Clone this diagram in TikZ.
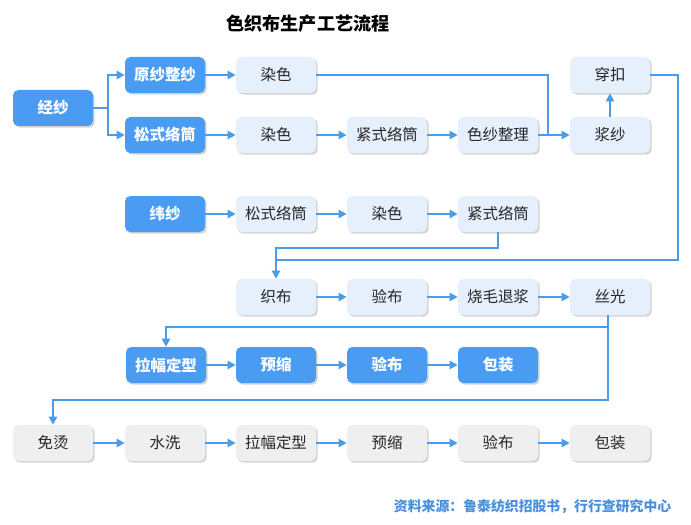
\documentclass[tikz,border=0pt]{standalone}
\usepackage{fontspec}
\setmainfont{Noto Sans CJK SC}
\usetikzlibrary{shadows,arrows.meta}
\definecolor{bluebox}{HTML}{4A9BF2}
\definecolor{lightbox}{HTML}{E5F0FC}
\definecolor{greybox}{HTML}{EFEFEF}
\definecolor{linec}{HTML}{4A9BE8}
\definecolor{srcc}{HTML}{4A8FDC}
\tikzset{
  base/.style={rounded corners=4pt, minimum width=60pt, minimum height=27pt, inner sep=0pt,
    font=\fontsize{11.6pt}{13pt}\selectfont,
    drop shadow={shadow xshift=1.3pt, shadow yshift=-1.3pt, opacity=0.28, fill=black!60}},
  bbox/.style={base, fill=bluebox, text=white, font=\fontsize{11.6pt}{13pt}\selectfont\bfseries},
  lbox/.style={base, fill=lightbox, text=black!85},
  gbox/.style={base, fill=greybox, text=black!85},
  conn/.style={draw=linec, line width=1.5pt},
  arr/.style={conn, -{Triangle[length=6pt,width=6pt]}},
}
\begin{document}
\begin{tikzpicture}[x=0.75pt,y=-0.75pt]
\useasboundingbox (0,0) rectangle (691,524);
\node[font=\fontsize{13.6pt}{16pt}\selectfont\bfseries] (title) at (308,24) {色织布生产工艺流程};
% row 1/2
\node[bbox] (jing) at (53,108) {经纱};
\node[bbox] (yuan) at (165,75) {原纱整纱};
\node[lbox] (ranA) at (276,75) {染色};
\node[lbox] (chuan) at (610,75) {穿扣};
\node[bbox] (songA) at (165,135) {松式络筒};
\node[lbox] (ranB) at (276,135) {染色};
\node[lbox] (jinB) at (387,135) {紧式络筒};
\node[lbox] (sez) at (498,135) {色纱整理};
\node[lbox] (jiang) at (610,135) {浆纱};
% row 3
\node[bbox] (wei) at (165,214) {纬纱};
\node[lbox] (songC) at (276,214) {松式络筒};
\node[lbox] (ranC) at (387,214) {染色};
\node[lbox] (jinC) at (498,214) {紧式络筒};
% row 4
\node[lbox] (zhi) at (276,297) {织布};
\node[lbox] (yanD) at (387,297) {验布};
\node[lbox] (shao) at (498,297) {烧毛退浆};
\node[lbox] (si) at (610,297) {丝光};
% row 5
\node[bbox] (lafuE) at (166,365) {拉幅定型};
\node[bbox] (yusE) at (276,365) {预缩};
\node[bbox] (yanE) at (387,365) {验布};
\node[bbox] (baoE) at (498,365) {包装};
% row 6
\node[gbox] (mian) at (53,443) {免烫};
\node[gbox] (shui) at (165,443) {水洗};
\node[gbox] (lafuF) at (276,443) {拉幅定型};
\node[gbox] (yusF) at (387,443) {预缩};
\node[gbox] (yanF) at (498,443) {验布};
\node[gbox] (baoF) at (610,443) {包装};
% source
\node[anchor=east, text=srcc, font=\fontsize{10.4pt}{12pt}\selectfont\bfseries] (src) at (676,507) {资料来源：鲁泰纺织招股书，行行查研究中心};
% connectors
\coordinate (j) at (108,108);
\draw[conn] (jing.east) -- (j);
\draw[arr] (j) |- (yuan.west);
\draw[arr] (j) |- (songA.west);
\draw[arr] (yuan) -- (ranA);
\draw[arr] (songA) -- (ranB);
\draw[arr] (ranB) -- (jinB);
\draw[arr] (jinB) -- (sez);
\coordinate (m) at (548,135);
\draw[conn] (ranA.east) -| (m);
\draw[arr] (sez) -- (jiang);
\draw[arr] (jiang) -- (chuan);
\draw[arr] (wei) -- (songC);
\draw[arr] (songC) -- (ranC);
\draw[arr] (ranC) -- (jinC);
\coordinate (r1) at (678,75);
\coordinate (r2) at (678,260);
\coordinate (r3) at (276,260);
\draw[arr] (chuan.east) -- (r1) -- (r2) -- (r3) -- (zhi.north);
\coordinate (k1) at (498,248);
\coordinate (k2) at (276,248);
\draw[conn] (jinC.south) -- (k1) -- (k2) -- (r3);
\draw[arr] (zhi) -- (yanD);
\draw[arr] (yanD) -- (shao);
\draw[arr] (shao) -- (si);
\coordinate (s1) at (608,327);
\coordinate (s2) at (166,327);
\coordinate (s3) at (608,400);
\coordinate (s4) at (53,400);
\draw[arr] (si.south -| s1) -- (s1) -- (s2) -- (lafuE.north);
\draw[arr] (s1) -- (s3) -- (s4) -- (mian.north);
\draw[arr] (lafuE) -- (yusE);
\draw[arr] (yusE) -- (yanE);
\draw[arr] (yanE) -- (baoE);
\draw[arr] (mian) -- (shui);
\draw[arr] (shui) -- (lafuF);
\draw[arr] (lafuF) -- (yusF);
\draw[arr] (yusF) -- (yanF);
\draw[arr] (yanF) -- (baoF);
\end{tikzpicture}
\end{document}
